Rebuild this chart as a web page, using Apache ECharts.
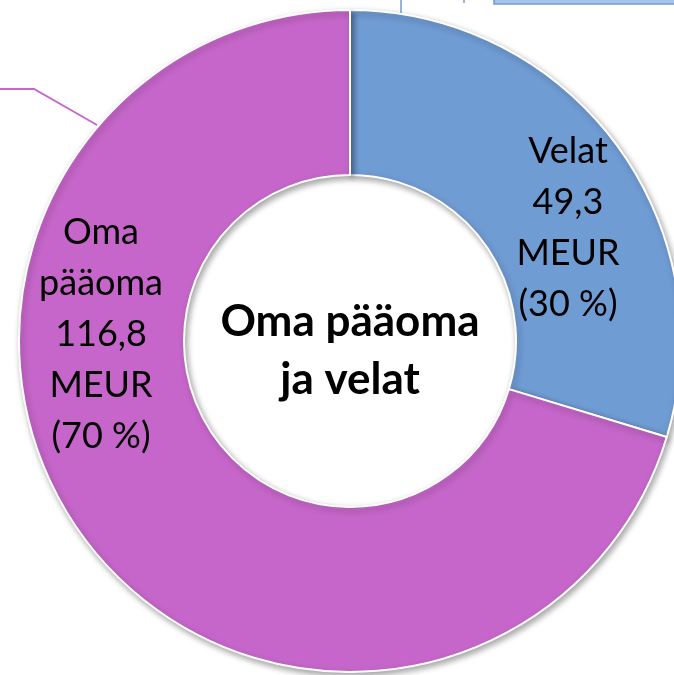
<!DOCTYPE html>
<html>
<head>
<meta charset="utf-8">
<script src="https://cdn.jsdelivr.net/npm/echarts@6/dist/echarts.min.js"></script>
<style>
  html, body { margin: 0; padding: 0; background: #fff; }
  #chart { width: 674px; height: 675px; }
</style>
</head>
<body>
<div id="chart"></div>
<script>
// data
var names = ['Velat', 'Oma pääoma'];
var labelNames = ['Velat', 'Oma\npääoma'];
var values = [49.3, 116.8];
var percents = ['30 %', '70 %'];
var colors = ['#709CD4', '#C666CA'];
var centerTitle = 'Oma pääoma\nja velat';

// where Excel put the two data labels
var labelSpots = [[568, 228], [101, 334]];

var myChart = echarts.init(document.getElementById('chart'));

myChart.setOption({
  animation: false,
  graphic: [
    // cut-off callouts from the neighbouring chart
    {
      type: 'polyline',
      shape: { points: [[0, 89], [34, 89], [97, 125]] },
      style: { stroke: '#C666CA', lineWidth: 1.8, fill: null },
      z: 1
    },
    {
      type: 'line',
      shape: { x1: 401, y1: 0, x2: 401, y2: 13 },
      style: { stroke: '#709CD4', lineWidth: 1.5 },
      z: 1
    },
    {
      type: 'line',
      shape: { x1: 464, y1: 0, x2: 464, y2: 3 },
      style: { stroke: '#709CD4', lineWidth: 1.5 },
      z: 1
    },
    {
      type: 'rect',
      shape: { x: 494, y: -10, width: 200, height: 14 },
      style: { fill: '#A9C3E8', stroke: '#709CD4', lineWidth: 1.5 },
      z: 1
    },
    {
      type: 'text',
      style: {
        text: centerTitle,
        x: 350,
        y: 351,
        align: 'center',
        verticalAlign: 'middle',
        font: 'bold 44px Lato',
        lineHeight: 58,
        fill: '#000'
      },
      z: 10
    }
  ],
  series: [{
    type: 'pie',
    center: [350, 341],
    radius: [166, 331],
    startAngle: 90,
    clockwise: true,
    avoidLabelOverlap: false,
    itemStyle: {
      borderColor: '#fff',
      borderWidth: 2,
      shadowBlur: 6,
      shadowOffsetX: 2,
      shadowOffsetY: 3,
      shadowColor: 'rgba(0,0,0,0.35)'
    },
    label: {
      show: true,
      position: 'inside',
      color: '#000',
      fontFamily: 'Lato',
      fontSize: 36,
      lineHeight: 51,
      align: 'center',
      formatter: function (p) {
        var v = String(values[p.dataIndex]).replace('.', ',');
        return labelNames[p.dataIndex] + '\n' + v + '\nMEUR\n(' + percents[p.dataIndex] + ')';
      }
    },
    labelLayout: function (p) {
      var s = labelSpots[p.dataIndex];
      return { x: s[0], y: s[1], align: 'center', verticalAlign: 'middle' };
    },
    labelLine: { show: false },
    emphasis: { disabled: true },
    data: names.map(function (n, i) {
      return { name: n, value: values[i], itemStyle: { color: colors[i] } };
    })
  }]
});
</script>
</body>
</html>
